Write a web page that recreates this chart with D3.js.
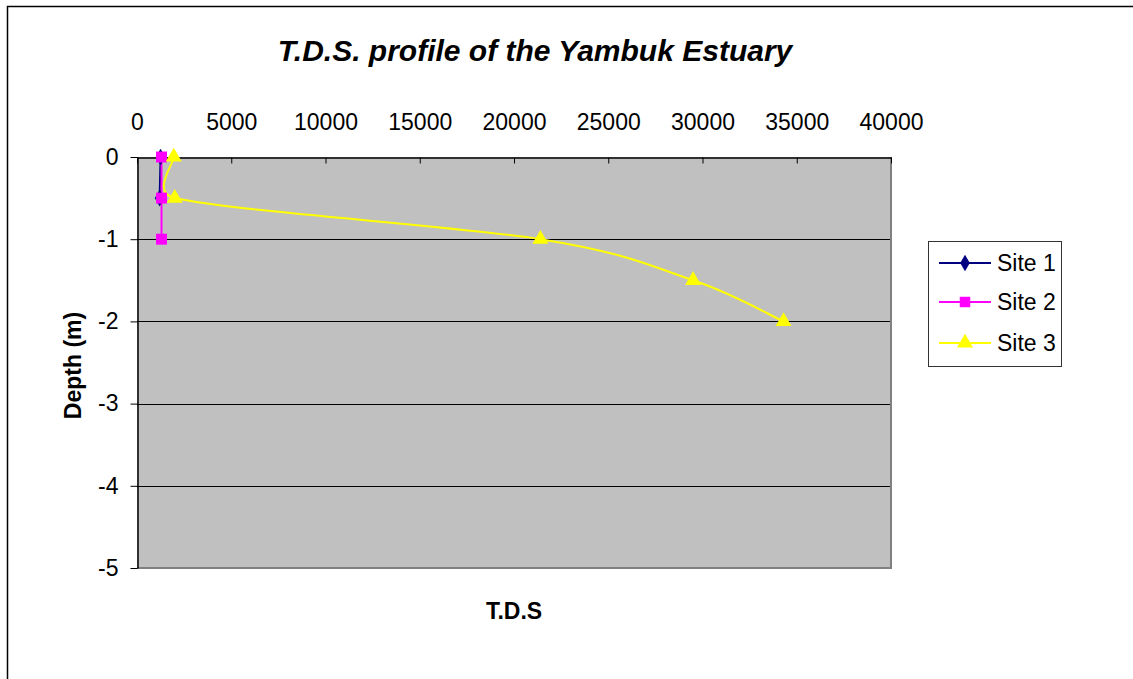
<!DOCTYPE html>
<html>
<head>
<meta charset="utf-8">
<script src="https://cdn.jsdelivr.net/npm/d3@7"></script>
<style>
  html, body { margin: 0; padding: 0; background: #fff; }
  svg { display: block; font-family: "Liberation Sans", Arial, sans-serif; }
</style>
</head>
<body>
<svg id="chart" width="1133" height="679"></svg>
<script>
// ---- data ----
const seriesNames = ["Site 1", "Site 2", "Site 3"];
const site1TDS   = [1250, 1200];
const site1Depth = [0, -0.5];
const site2TDS   = [1300, 1300, 1300];
const site2Depth = [0, -0.5, -1];
const site3TDS   = [1950, 2000, 21400, 29500, 34300];
const site3Depth = [0, -0.5, -1, -1.5, -2];
const xTicks = [0, 5000, 10000, 15000, 20000, 25000, 30000, 35000, 40000];
const yTicks = [0, -1, -2, -3, -4, -5];
const titleText = "T.D.S. profile of the Yambuk Estuary";
const xLabel = "T.D.S";
const yLabel = "Depth (m)";

const series = [
  { name: seriesNames[0], x: site1TDS, y: site1Depth, color: "#000080", symbol: d3.symbolDiamond },
  { name: seriesNames[1], x: site2TDS, y: site2Depth, color: "#FF00FF", symbol: d3.symbolSquare },
  { name: seriesNames[2], x: site3TDS, y: site3Depth, color: "#FFFF00", symbol: d3.symbolTriangle }
];

const svg = d3.select("#chart");
const W = 1133, H = 679;
const plot = { left: 137, right: 891, top: 157, bottom: 568 };
const FS = 23;

const x = d3.scaleLinear().domain([0, 40000]).range([plot.left, plot.right]);
const y = d3.scaleLinear().domain([-5, 0]).range([plot.bottom, plot.top]);

// Excel-like smoothed line: Catmull-Rom Bezier with arms clamped to segment length
function smoothPath(pts) {
  const p = d3.path();
  const n = pts.length;
  if (!n) return "";
  p.moveTo(pts[0][0], pts[0][1]);
  const tan = i => {
    const a = pts[Math.max(0, i - 1)], b = pts[Math.min(n - 1, i + 1)];
    return [(b[0] - a[0]) / 6, (b[1] - a[1]) / 6];
  };
  const dist = (a, b) => Math.hypot(b[0] - a[0], b[1] - a[1]);
  for (let i = 0; i < n - 1; i++) {
    const a = pts[i], b = pts[i + 1];
    const d = dist(a, b);
    let ta = tan(i), tb = tan(i + 1);
    const la = Math.hypot(ta[0], ta[1]), lb = Math.hypot(tb[0], tb[1]);
    const ka = la > 0 ? Math.min(1, 0.6 * d / la) : 0;
    const kb = lb > 0 ? Math.min(1, 0.6 * d / lb) : 0;
    p.bezierCurveTo(a[0] + ta[0] * ka, a[1] + ta[1] * ka,
                    b[0] - tb[0] * kb, b[1] - tb[1] * kb,
                    b[0], b[1]);
  }
  return p.toString();
}

// outer chart border
svg.append("rect")
  .attr("x", 7.5).attr("y", 6.5)
  .attr("width", W + 20).attr("height", H + 20)
  .attr("fill", "#fff").attr("stroke", "#000").attr("stroke-width", 1.5);

// title
svg.append("text")
  .attr("x", 535).attr("y", 61)
  .attr("text-anchor", "middle")
  .attr("font-size", 30).attr("font-weight", "bold").attr("font-style", "italic")
  .text(titleText);

// plot background
svg.append("rect")
  .attr("x", plot.left).attr("y", plot.top)
  .attr("width", plot.right - plot.left).attr("height", plot.bottom - plot.top)
  .attr("fill", "#C0C0C0");

// gridlines
svg.append("g").selectAll("line").data(yTicks.filter(d => d !== 0 && d !== -5)).join("line")
  .attr("x1", plot.left).attr("x2", plot.right)
  .attr("y1", d => Math.round(y(d)) + 0.5).attr("y2", d => Math.round(y(d)) + 0.5)
  .attr("stroke", "#000").attr("stroke-width", 1);

// plot border: right & bottom gray
svg.append("line").attr("x1", plot.right).attr("x2", plot.right)
  .attr("y1", plot.top).attr("y2", plot.bottom + 1)
  .attr("stroke", "#808080").attr("stroke-width", 2);
svg.append("line").attr("x1", plot.left).attr("x2", plot.right + 1)
  .attr("y1", plot.bottom).attr("y2", plot.bottom)
  .attr("stroke", "#808080").attr("stroke-width", 2);

// top x axis (ticks pointing inward/down)
const xAxis = d3.axisTop(x).tickValues(xTicks).tickSizeInner(-6).tickSizeOuter(0).tickPadding(28).tickFormat(d3.format("d"));
const gx = svg.append("g").attr("transform", `translate(0,${plot.top + 0.5})`).call(xAxis);
gx.select(".domain").attr("stroke", "#000").attr("stroke-width", 1.5);
gx.selectAll(".tick line").attr("stroke", "#000");
gx.selectAll(".tick text").attr("font-size", FS).attr("fill", "#000")
  .attr("font-family", "Liberation Sans, Arial, sans-serif");

// left y axis
const yAxis = d3.axisLeft(y).tickValues(yTicks).tickSizeInner(7).tickSizeOuter(0).tickPadding(12).tickFormat(d3.format("d"));
const gy = svg.append("g").attr("transform", `translate(${plot.left + 0.5},0)`).call(yAxis);
gy.select(".domain").attr("stroke", "#000").attr("stroke-width", 1.5);
gy.selectAll(".tick line").attr("stroke", "#000");
gy.selectAll(".tick text").attr("font-size", FS).attr("fill", "#000")
  .attr("font-family", "Liberation Sans, Arial, sans-serif")
  .text(d => d === 0 ? "0" : "-" + Math.abs(d));

// axis labels
svg.append("text")
  .attr("x", (plot.left + plot.right) / 2).attr("y", 619)
  .attr("text-anchor", "middle").attr("font-size", FS).attr("font-weight", "bold")
  .text(xLabel);
svg.append("text")
  .attr("transform", `translate(81,${(plot.top + plot.bottom) / 2 + 3}) rotate(-90)`)
  .attr("text-anchor", "middle").attr("font-size", FS).attr("font-weight", "bold")
  .text(yLabel);

// series lines
const gS = svg.append("g");
series.forEach(s => {
  const pts = s.x.map((v, i) => [x(v), y(s.y[i])]);
  gS.append("path")
    .attr("d", smoothPath(pts)).attr("fill", "none")
    .attr("stroke", s.color).attr("stroke-width", 2);
});
series.forEach(s => {
  const pts = s.x.map((v, i) => [v, s.y[i]]);
  const size = s.symbol === d3.symbolSquare ? 120 : s.symbol === d3.symbolTriangle ? 110 : 80;
  gS.selectAll(null).data(pts).join("path")
    .attr("transform", d => `translate(${x(d[0])},${y(d[1])})`)
    .attr("d", d3.symbol(s.symbol, size))
    .attr("fill", s.color);
});

// legend
const lg = svg.append("g");
lg.append("rect").attr("x", 928.5).attr("y", 241.5).attr("width", 133).attr("height", 125)
  .attr("fill", "#fff").attr("stroke", "#333").attr("stroke-width", 1);
const legY = [263, 302, 343];
series.forEach((s, i) => {
  lg.append("line").attr("x1", 939).attr("x2", 991).attr("y1", legY[i]).attr("y2", legY[i])
    .attr("stroke", s.color).attr("stroke-width", 2);
  const size = s.symbol === d3.symbolSquare ? 110 : s.symbol === d3.symbolTriangle ? 110 : 80;
  lg.append("path").attr("transform", `translate(965,${legY[i]})`)
    .attr("d", d3.symbol(s.symbol, size)).attr("fill", s.color);
  lg.append("text").attr("x", 997).attr("y", legY[i] + 8)
    .attr("font-size", FS).text(s.name);
});
</script>
</body>
</html>
